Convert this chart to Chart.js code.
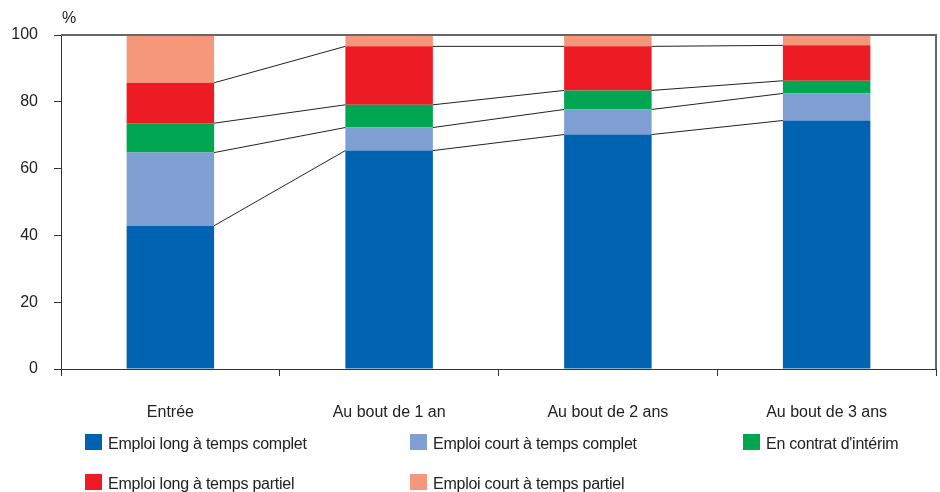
<!DOCTYPE html>
<html>
<head>
<meta charset="utf-8">
<script src="https://cdn.jsdelivr.net/npm/chart.js@4/dist/chart.umd.min.js"></script>
<style>
body { margin: 0; background: #fff; }
#wrap { position: relative; width: 940px; height: 492px; overflow: hidden; }
#legend { position: absolute; left: 0; top: 0; width: 940px; height: 492px; pointer-events: none;
  font-family: "Liberation Sans", Arial, sans-serif; font-size: 16px; letter-spacing: -0.25px; color: #222; }
.item { position: absolute; white-space: nowrap; line-height: 18px; }
.item span.box { position: absolute; left: 0; top: 0; width: 17px; height: 16px; }
.item span.txt { position: absolute; left: 23px; top: 1px; }
</style>
</head>
<body>
<div id="wrap">
  <canvas id="myChart" width="940" height="492"></canvas>
  <div id="legend"></div>
</div>
<script>
// catégories
const categories = ['Entrée', 'Au bout de 1 an', 'Au bout de 2 ans', 'Au bout de 3 ans'];

// séries (en %)
const longComplet  = [42.9, 65.4, 70.2, 74.4];
const courtComplet = [21.9, 6.9, 7.5, 8.1];
const interim      = [8.8, 6.8, 5.7, 3.8];
const longPartiel  = [12.1, 17.5, 13.2, 10.6];
const courtPartiel = [14.3, 3.4, 3.4, 3.1];

const seriesNames = ['Emploi long à temps complet', 'Emploi court à temps complet', "En contrat d'intérim",
    'Emploi long à temps partiel', 'Emploi court à temps partiel'];
const seriesData = [longComplet, courtComplet, interim, longPartiel, courtPartiel];
const seriesColors = ['#0063b1', '#7f9fd3', '#00a651', '#ed1c24', '#f4977a'];

const yTicks = [0, 20, 40, 60, 80, 100];

// légende : position de chaque entrée
const legendPos = [[85, 434], [410, 434], [743, 434], [85, 474], [410, 474]];

var datasets = [];
seriesData.forEach(function(d, i) {
    datasets.push({
        label: seriesNames[i],
        data: d,
        backgroundColor: seriesColors[i],
        borderWidth: 0,
        categoryPercentage: 1,
        barPercentage: 0.4
    });
});

// traits reliant les barres + cadre + "%"
const linkPlugin = {
    id: 'links',
    afterDatasetsDraw(chart) {
        const ctx = chart.ctx;
        const area = chart.chartArea;
        const y = chart.scales.y;
        ctx.save();
        ctx.strokeStyle = '#222';
        ctx.lineWidth = 1;
        for (var k = 0; k < 4; k++) {
            const meta = chart.getDatasetMeta(k);
            for (var j = 0; j < categories.length - 1; j++) {
                const a = meta.data[j], b = meta.data[j + 1];
                ctx.beginPath();
                ctx.moveTo(a.x + a.width / 2, a.y);
                ctx.lineTo(b.x - b.width / 2, b.y);
                ctx.stroke();
            }
        }
        // cadre haut et droite
        ctx.strokeStyle = '#666';
        ctx.lineWidth = 2;
        ctx.beginPath();
        ctx.moveTo(area.left, area.top);
        ctx.lineTo(area.right, area.top);
        ctx.lineTo(area.right, area.bottom);
        ctx.stroke();
        // unité
        ctx.fillStyle = '#222';
        ctx.font = '16px "Liberation Sans", Arial, sans-serif';
        ctx.textAlign = 'left';
        ctx.textBaseline = 'alphabetic';
        ctx.fillText('%', area.left + 1, y.getPixelForValue(100) - 12);
        ctx.restore();
    }
};

const ctx = document.getElementById('myChart');
new Chart(ctx, {
    type: 'bar',
    data: { labels: categories, datasets: datasets },
    options: {
        responsive: false,
        animation: false,
        layout: { padding: { top: 35, right: 4, bottom: 0, left: 0 } },
        plugins: { legend: { display: false }, tooltip: { enabled: false } },
        scales: {
            x: {
                stacked: true,
                grid: { drawOnChartArea: false, offset: true, tickLength: 7, color: '#333', lineWidth: 1 },
                border: { color: '#333', width: 1 },
                ticks: { color: '#222', padding: 27, font: { family: '"Liberation Sans", Arial, sans-serif', size: 16 } },
                afterFit: function(scale) { scale.height = 123; }
            },
            y: {
                stacked: true,
                min: 0,
                max: 100,
                afterBuildTicks: function(scale) { scale.ticks = yTicks.map(v => ({ value: v })); },
                grid: { drawOnChartArea: false, tickLength: 7, color: '#333', lineWidth: 1 },
                border: { color: '#333', width: 1 },
                ticks: { color: '#222', padding: 16, font: { family: '"Liberation Sans", Arial, sans-serif', size: 16 } },
                afterFit: function(scale) { scale.width = 61; }
            }
        }
    },
    plugins: [linkPlugin]
});

var legend = document.getElementById('legend');
seriesNames.forEach(function(name, i) {
    var div = document.createElement('div');
    div.className = 'item';
    div.style.left = legendPos[i][0] + 'px';
    div.style.top = legendPos[i][1] + 'px';
    div.innerHTML = '<span class="box" style="background:' + seriesColors[i] + '"></span><span class="txt">' + name + '</span>';
    legend.appendChild(div);
});
</script>
</body>
</html>
